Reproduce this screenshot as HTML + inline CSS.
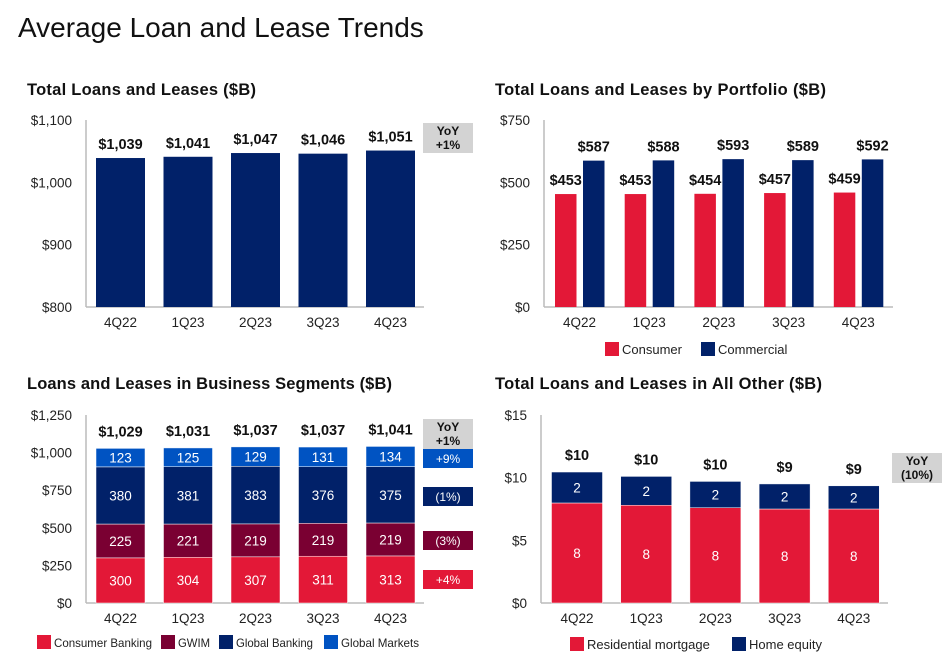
<!DOCTYPE html>
<html><head><meta charset="utf-8">
<style>
body{margin:0;background:#fff;width:947px;height:663px;overflow:hidden;font-family:"Liberation Sans",sans-serif;}
svg text{font-family:"Liberation Sans",sans-serif;}
</style></head>
<body>
<svg id="c" width="947" height="663" xmlns="http://www.w3.org/2000/svg">
<text x="18" y="37" font-size="28" fill="#111">Average Loan and Lease Trends</text>
<text x="27" y="95" font-size="16.5" font-weight="bold" fill="#111" textLength="229">Total Loans and Leases ($B)</text>
<text x="495" y="95" font-size="16.5" font-weight="bold" fill="#111" textLength="331">Total Loans and Leases by Portfolio ($B)</text>
<text x="27" y="389" font-size="16.5" font-weight="bold" fill="#111" textLength="365">Loans and Leases in Business Segments ($B)</text>
<text x="495" y="389" font-size="16.5" font-weight="bold" fill="#111" textLength="327">Total Loans and Leases in All Other ($B)</text>
</svg>
<script>
const quarters=["4Q22","1Q23","2Q23","3Q23","4Q23"];
const totalLoans=[1039,1041,1047,1046,1051];
const totalTicks=[800,900,1000,1100];
const consumer=[453,453,454,457,459];
const commercial=[587,588,593,589,592];
const portfolioTicks=[0,250,500,750];
const consumerBanking=[300,304,307,311,313];
const gwim=[225,221,219,219,219];
const globalBanking=[380,381,383,376,375];
const globalMarkets=[123,125,129,131,134];
const segmentTotals=[1029,1031,1037,1037,1041];
const segmentYoY=["+4%","(3%)","(1%)","+9%"];
const segmentTicks=[0,250,500,750,1000,1250];
const resMortgage=[7.98,7.8,7.6,7.5,7.5];
const homeEquity=[2.47,2.3,2.1,2.0,1.85];
const resLabels=[8,8,8,8,8];
const heLabels=[2,2,2,2,2];
const otherTotals=[10,10,10,9,9];
const otherTicks=[0,5,10,15];

const NAVY="#012169",RED="#E31837",MAROON="#7A0032",BLUE="#0053C2",GREY="#D3D3D3";
const svg=document.getElementById('c');
const NS="http://www.w3.org/2000/svg";
function mk(tag,attrs,parent){const e=document.createElementNS(NS,tag);for(const k in attrs)e.setAttribute(k,attrs[k]);(parent||svg).appendChild(e);return e;}
function txt(x,y,s,attrs){const e=mk('text',Object.assign({x:x,y:y},attrs));e.textContent=s;return e;}
function fmt(v){return "$"+v.toLocaleString("en-US");}

function axes(ax,ticks,tickFmt,name){
  const sc=v=>ax.y0-(v-ax.vmin)/(ax.vmax-ax.vmin)*(ax.y0-ax.y1);
  const l1=mk('line',{x1:ax.x0,x2:ax.x0,y1:ax.y1,y2:ax.y0,stroke:"#bbb","stroke-width":1.5});
  
  
  const l2=mk('line',{x1:ax.x0,x2:ax.xe,y1:ax.y0,y2:ax.y0,stroke:"#bbb","stroke-width":1.5});
  
  
  ticks.forEach(t=>{
    const e=txt(ax.x0-14,sc(t)+5,tickFmt(t),{"font-size":13.5,"text-anchor":"end",fill:"#222"});
    
    
  });
  quarters.forEach((q,i)=>{
    const e=txt(ax.cx(i),ax.y0+20,q,{"font-size":13.5,"text-anchor":"middle",fill:"#222"});
    
    
  });
  return sc;
}
function yoy(x,y,w,h,lines,name){
  const r=mk('rect',{x:x,y:y,width:w,height:h,fill:GREY});
  
  
  lines.forEach((s,i)=>{const t=txt(x+w/2,y+12+i*14,s,{"font-size":12,"font-weight":"bold","text-anchor":"middle",fill:"#111"});
    
    });
}
function legend(items,y,fs){
  items.forEach(it=>{
    const r=mk('rect',{x:it.x,y:y-7,width:14,height:14,fill:it.c});
    
    
    const a={"font-size":fs,fill:"#222"};
    if(it.w){a.textLength=it.w;a.lengthAdjust="spacingAndGlyphs";}
    const t=txt(it.x+17,y+5,it.s,a);
    
    
  });
}

// Chart 1
{const ax={x0:86,xe:424,y0:307,y1:120,vmin:800,vmax:1100,cx:i=>120.5+i*67.5};
 const sc=axes(ax,totalTicks,fmt,'chart1');
 totalLoans.forEach((v,i)=>{
  const r=mk('rect',{x:ax.cx(i)-24.5,y:sc(v),width:49,height:ax.y0-sc(v),fill:NAVY});
  
  
  const t=txt(ax.cx(i),sc(v)-9,fmt(v),{"font-size":14.5,"font-weight":"bold","text-anchor":"middle",fill:"#111"});
  
  
 });
 yoy(423,123,50,30,["YoY","+1%"],'chart1-yoy-box');}

// Chart 2
{const ax={x0:544,xe:893,y0:307,y1:120,vmin:0,vmax:750,cx:i=>579.5+i*69.7};
 const sc=axes(ax,portfolioTicks,fmt,'chart2');
 quarters.forEach((q,i)=>{
  [[consumer,RED,-24.5,'consumer'],[commercial,NAVY,3.5,'commercial']].forEach(([arr,c,off,n])=>{
   const v=arr[i];
   const r=mk('rect',{x:ax.cx(i)+off,y:sc(v),width:21.5,height:ax.y0-sc(v),fill:c});
   
   
   const t=txt(ax.cx(i)+off+10.75,sc(v)-9,fmt(v),{"font-size":14.5,"font-weight":"bold","text-anchor":"middle",fill:"#111"});
   
   
  });
 });
 legend([{x:605,c:RED,s:"Consumer"},{x:701,c:NAVY,s:"Commercial"}],349,13);}

// Chart 3
{const ax={x0:86,xe:424,y0:603,y1:415,vmin:0,vmax:1250,cx:i=>120.5+i*67.5};
 const sc=axes(ax,segmentTicks,fmt,'chart3');
 const series=[[consumerBanking,RED,'consumer-banking'],[gwim,MAROON,'gwim'],[globalBanking,NAVY,'global-banking'],[globalMarkets,BLUE,'global-markets']];
 quarters.forEach((q,i)=>{
  let base=0;
  series.forEach(([arr,c,n])=>{
   const v=arr[i];
   const yt=sc(base+v),yb=sc(base);
   const r=mk('rect',{x:ax.cx(i)-24.5,y:yt,width:49,height:yb-yt,fill:c,stroke:"#fff","stroke-width":0.5});
   
   
   const t=txt(ax.cx(i),(yt+yb)/2+5,String(v),{"font-size":13.5,"text-anchor":"middle",fill:"#fff"});
   
   
   base+=v;
  });
  const t=txt(ax.cx(i),sc(base)-12,fmt(segmentTotals[i]),{"font-size":14.5,"font-weight":"bold","text-anchor":"middle",fill:"#111"});
  
  
 });
 yoy(423,419,50,30,["YoY","+1%"],'chart3-yoy-box');
 const cols=[RED,MAROON,NAVY,BLUE];
 const ys=[570,531,487,449];
 segmentYoY.forEach((s,k)=>{
  const r=mk('rect',{x:423,y:ys[k],width:50,height:19,fill:cols[k]});
  
  
  const t=txt(448,ys[k]+14,s,{"font-size":12,"text-anchor":"middle",fill:"#fff"});
  
  
 });
 legend([{x:37,c:RED,s:"Consumer Banking",w:98},{x:161,c:MAROON,s:"GWIM",w:32},{x:219,c:NAVY,s:"Global Banking",w:77},{x:324,c:BLUE,s:"Global Markets",w:78}],642,12);}

// Chart 4
{const ax={x0:541,xe:888,y0:603,y1:415,vmin:0,vmax:15,cx:i=>577+i*69.2};
 const sc=axes(ax,otherTicks,fmt,'chart4');
 quarters.forEach((q,i)=>{
  let base=0;
  [[resMortgage,resLabels,RED,'residential-mortgage'],[homeEquity,heLabels,NAVY,'home-equity']].forEach(([arr,lab,c,n])=>{
   const v=arr[i];
   const yt=sc(base+v),yb=sc(base);
   const r=mk('rect',{x:ax.cx(i)-25.5,y:yt,width:51,height:yb-yt,fill:c,stroke:"#fff","stroke-width":0.5});
   
   
   const t=txt(ax.cx(i),(yt+yb)/2+5,String(lab[i]),{"font-size":13.5,"text-anchor":"middle",fill:"#fff"});
   
   
   base+=v;
  });
  const t=txt(ax.cx(i),sc(base)-12,fmt(otherTotals[i]),{"font-size":14.5,"font-weight":"bold","text-anchor":"middle",fill:"#111"});
  
  
 });
 yoy(892,453,50,30,["YoY","(10%)"],'chart4-yoy-box');
 legend([{x:570,c:RED,s:"Residential mortgage"},{x:732,c:NAVY,s:"Home equity"}],644,13);}
</script>
</body></html>
